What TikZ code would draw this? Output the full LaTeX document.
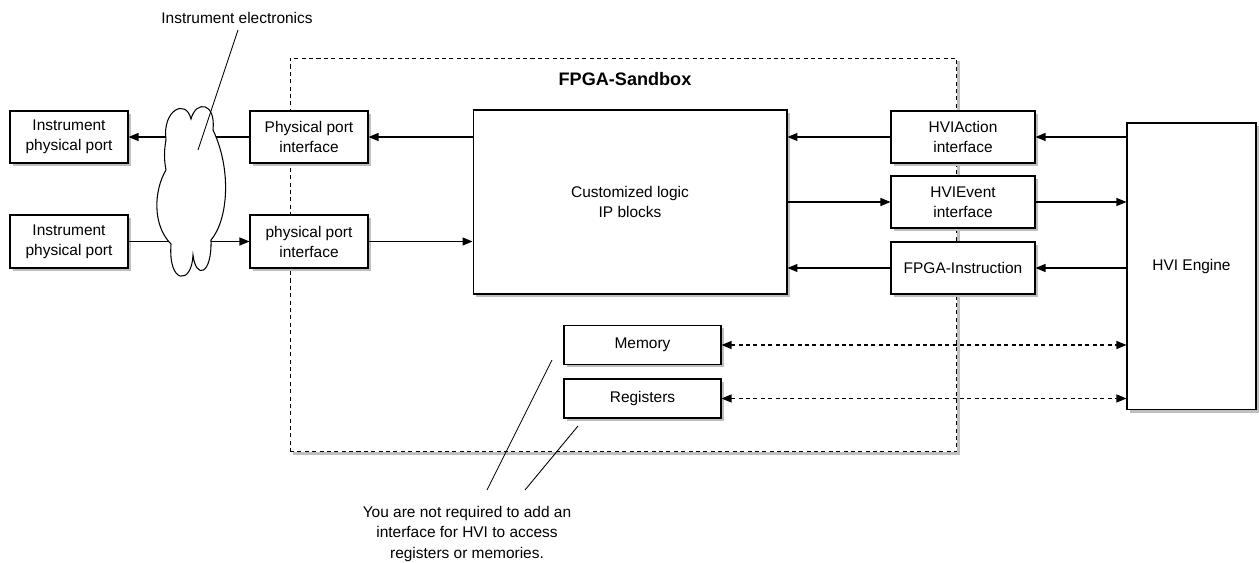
\documentclass[tikz,border=0pt]{standalone}
\usepackage{fontspec}
\setmainfont{Liberation Sans}
\usetikzlibrary{arrows.meta,shadows,positioning,calc}

\tikzset{
  box/.style={draw, fill=white, line width=0.6pt, inner sep=0pt, align=center,
    drop shadow={shadow xshift=0.06cm, shadow yshift=-0.06cm, fill=black!25, opacity=1}},
  link/.style={line width=0.6pt, -{Triangle[length=0.2cm,width=0.16cm]}},
  dlink/.style={line width=0.6pt, dash pattern=on 2.3pt off 1.9pt,
    {Triangle[length=0.2cm,width=0.16cm]}-{Triangle[length=0.2cm,width=0.16cm]}},
  pointer/.style={line width=0.5pt},
}

\begin{document}
\begin{tikzpicture}[x=0.02cm, y=-0.02cm,
  every node/.style={font=\fontsize{8.8}{11.4}\selectfont}]
	% picture frame
	\useasboundingbox (0,0) rectangle (1259,563);
	% sandbox frame
	\node[box, dash pattern=on 2.3pt off 1.9pt, minimum width=13.34cm, minimum height=7.88cm] (sandbox) at (623.5,255) {};
	\node[font=\bfseries\fontsize{10.3}{12}\selectfont] (title) at (625,79) {FPGA-Sandbox};
	% instrument side
	\node[box, minimum width=2.36cm, minimum height=1.04cm] (inst1) at (69,137) {Instrument\\physical port};
	\node[box, minimum width=2.36cm, minimum height=1.06cm] (inst2) at (69,241.5) {Instrument\\physical port};
	\node[box, minimum width=2.36cm, minimum height=1.04cm] (phys1) at (309,137) {Physical port\\interface};
	\node[box, minimum width=2.36cm, minimum height=1.06cm] (phys2) at (309,241.5) {physical port\\interface};
	% logic and hvi interfaces
	\node[box, minimum width=6.28cm, minimum height=3.68cm] (logic) at (630,202) {Customized logic\\IP blocks};
	\node[box, minimum width=2.88cm, minimum height=1.04cm] (act) at (963,137) {HVIAction\\interface};
	\node[box, minimum width=2.88cm, minimum height=1.04cm] (evt) at (963,202) {HVIEvent\\interface};
	\node[box, minimum width=2.88cm, minimum height=1.04cm] (instr) at (963,268) {FPGA-Instruction};
	\node[box, minimum width=2.58cm, minimum height=5.74cm] (engine) at (1191.5,266.5) {HVI Engine};
	\node[box, minimum width=3.14cm, minimum height=0.78cm] (mem) at (642.5,345) {Memory};
	\node[box, minimum width=3.14cm, minimum height=0.78cm] (reg) at (642.5,398.5) {Registers};
	% arrows
	\draw[link] (phys1.west) -- (inst1.east);
	\draw[link] (inst2.east) -- (phys2.west);
	\draw[link] (logic.west |- phys1.east) -- (phys1.east);
	\draw[link] (phys2.east) -- (logic.west |- phys2.east);
	\draw[link] (act.west) -- (logic.east |- act.west);
	\draw[link] (logic.east |- evt.west) -- (evt.west);
	\draw[link] (instr.west) -- (logic.east |- instr.west);
	\draw[link] (engine.west |- act.east) -- (act.east);
	\draw[link] (evt.east) -- (engine.west |- evt.east);
	\draw[link] (engine.west |- instr.east) -- (instr.east);
	\draw[dlink] (mem.east) -- (engine.west |- mem.east);
	\draw[dlink] (reg.east) -- (engine.west |- reg.east);
	% cloud
	\draw[fill=white, line width=0.6pt] (166,140)
		.. controls (162,110) and (186,98) .. (191,119)
		.. controls (196,100) and (216,102) .. (213,130)
		.. controls (232,170) and (228,220) .. (211,240)
		.. controls (212,275) and (196,280) .. (193,255)
		.. controls (192,285) and (168,285) .. (171,244)
		.. controls (152,225) and (154,190) .. (166,170)
		.. controls (164,160) and (164,150) .. (166,140) -- cycle;
	% callouts
	\node (elec) at (237,18) {Instrument electronics};
	\coordinate (elecend) at (198,150);
	\draw[pointer] (238,30) -- (elecend);
	\node[align=center] (note) at (467,534) {You are not required to add an\\interface for HVI to access\\registers or memories.};
	\coordinate (memend) at (552,360);
	\coordinate (regend) at (578,426);
	\draw[pointer] (memend) -- (487,490);
	\draw[pointer] (regend) -- (525,490);
\end{tikzpicture}
\end{document}
